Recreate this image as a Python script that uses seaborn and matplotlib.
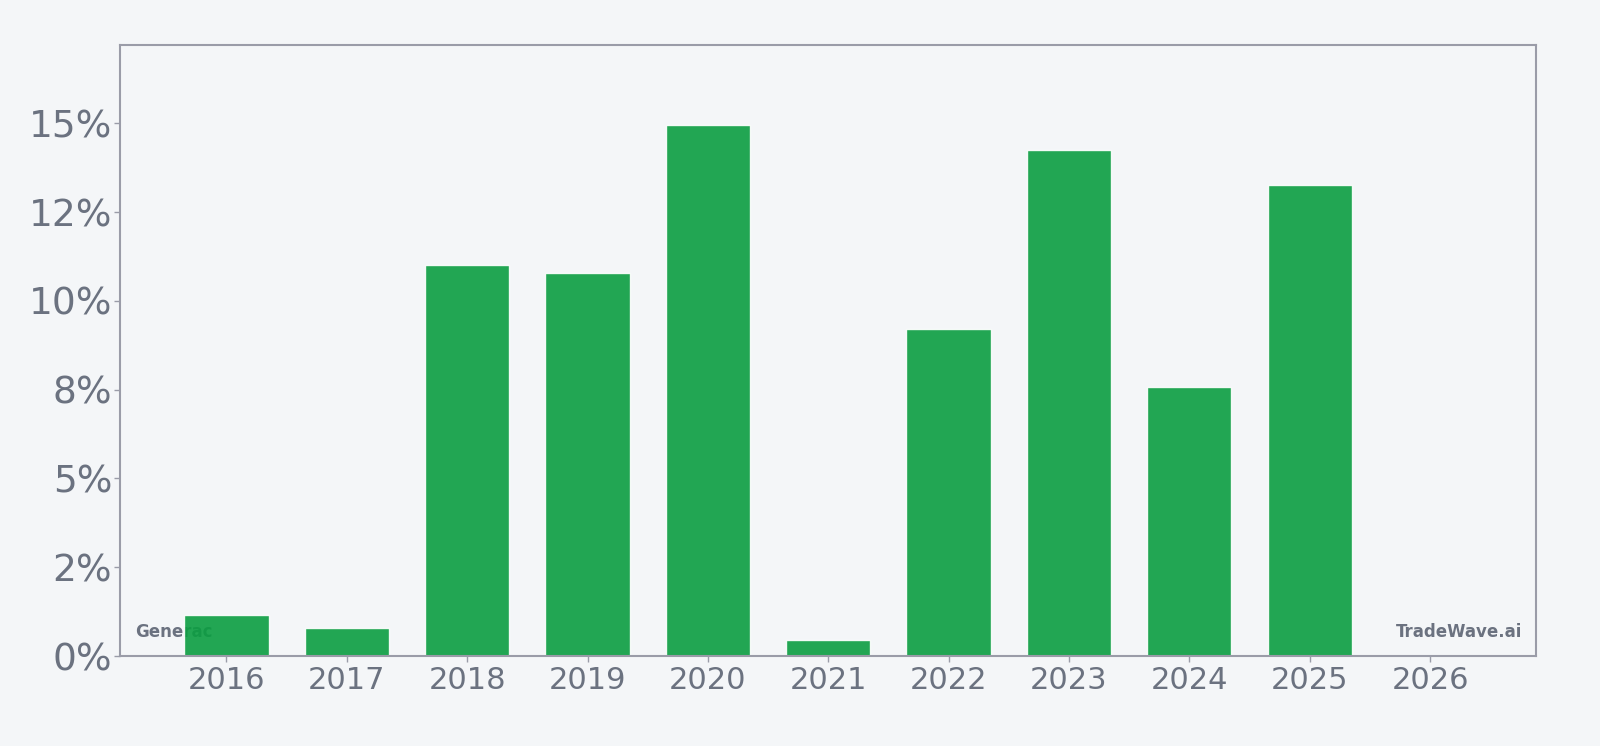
import matplotlib
matplotlib.use("Agg")
import matplotlib.pyplot as plt
import seaborn as sns
import pandas as pd
from matplotlib.ticker import FixedLocator, FuncFormatter

years = ["2016", "2017", "2018", "2019", "2020", "2021", "2022", "2023", "2024", "2025", "2026"]
values = [1.15, 0.78, 11.0, 10.78, 14.94, 0.46, 9.2, 14.25, 7.56, 13.25, 0.0]
yticks = [0, 2.5, 5, 7.5, 10, 12.5, 15]

bg = "#f4f6f8"
text_col = "#6b7280"
spine_col = "#9a9ca8"
bar_col = "#0b9e41"

sns.set_theme(style="white")
plt.rcParams["font.family"] = ["DejaVu Sans"]

df = pd.DataFrame({"year": years, "value": values})

fig = plt.figure(figsize=(16, 7.46), dpi=100, facecolor=bg)
ax = fig.add_axes([0.0753, 0.1206, 0.8847, 0.819])
ax.set_facecolor(bg)

ax.text(0.010, 0.025, "Generac", transform=ax.transAxes, fontsize=12,
        fontweight="bold", color=text_col, ha="left", va="bottom", zorder=1)
ax.text(0.990, 0.025, "TradeWave.ai", transform=ax.transAxes, fontsize=12,
        fontweight="bold", color=text_col, ha="right", va="bottom", zorder=1)

sns.barplot(data=df, x="year", y="value", color=bar_col, saturation=1,
            width=0.7, alpha=0.9, ax=ax, zorder=2)

ax.set_xlim(-0.88, 10.88)
ax.set_ylim(0, 17.2)
ax.yaxis.set_major_locator(FixedLocator(yticks))
ax.yaxis.set_major_formatter(FuncFormatter(lambda v, p: "{:.0f}%".format(v)))
ax.set_xlabel("")
ax.set_ylabel("")

for s in ax.spines.values():
    s.set_color(spine_col)
    s.set_linewidth(1.5)

ax.tick_params(axis="y", labelsize=27, colors=spine_col, labelcolor=text_col,
               length=4, width=1, left=True, pad=2)
ax.tick_params(axis="x", labelsize=22, colors=spine_col, labelcolor=text_col,
               length=4, width=1, bottom=True, pad=3)

fig.savefig("out.png", dpi=100, facecolor=bg)
